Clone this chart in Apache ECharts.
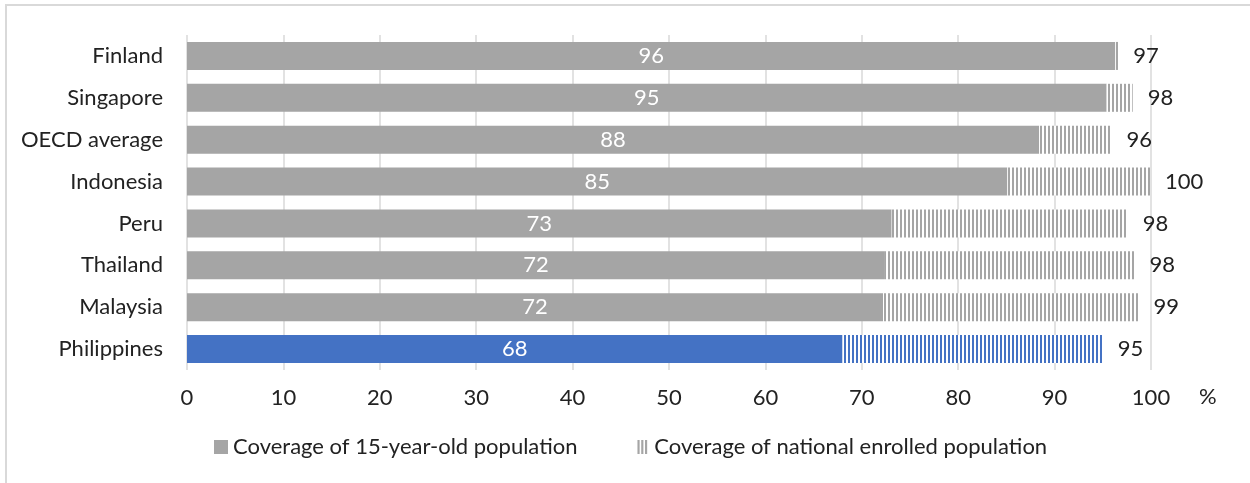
<!DOCTYPE html>
<html>
<head>
<meta charset="utf-8">
<script src="https://cdn.jsdelivr.net/npm/echarts@6/dist/echarts.min.js"></script>
<style>
html,body{margin:0;padding:0;background:#fff;}
#chart{width:1250px;height:483px;}
</style>
</head>
<body>
<div id="chart"></div>
<script>
var countries = ['Finland','Singapore','OECD average','Indonesia','Peru','Thailand','Malaysia','Philippines'];
var coverage15 = [96.3, 95.4, 88.4, 85.1, 73.1, 72.4, 72.2, 68.0];
var coverageEnrolled = [96.6, 98.1, 95.9, 99.9, 97.6, 98.3, 98.7, 95.0];
var xTicks = [0,10,20,30,40,50,60,70,80,90,100];
var seriesNames = ['Coverage of 15-year-old population','Coverage of national enrolled population'];
var highlight = 'Philippines';

var GRAY = '#a5a5a5', BLUE = '#4472c4';
function stripes(color){
  var c = document.createElement('canvas');
  c.width = 4; c.height = 4;
  var g = c.getContext('2d');
  g.fillStyle = '#ffffff'; g.fillRect(0,0,4,4);
  g.fillStyle = color; g.fillRect(0,0,2,4);
  return {image:c, repeat:'repeat'};
}
var FONT = 'Lato, "Open Sans", sans-serif';
var FS = 22;

var s1 = countries.map(function(c,i){
  var d = {value: coverage15[i]};
  if (c === highlight) d.itemStyle = {color: BLUE};
  return d;
});
var s2 = countries.map(function(c,i){
  var d = {value: +(coverageEnrolled[i]-coverage15[i]).toFixed(2)};
  if (c === highlight) d.itemStyle = {color: stripes(BLUE)};
  return d;
});

var chart = echarts.init(document.getElementById('chart'), null, {renderer:'canvas'});
chart.setOption({
  animation:false,
  textStyle:{fontFamily:FONT},
  graphic:[{type:'rect', shape:{x:6,y:5,width:1260,height:500}, style:{fill:'none', stroke:'#d9d9d9', lineWidth:2}, silent:true}],
  grid:{left:187, right:99, top:35, bottom:113, containLabel:false},
  legend:{
    top:431, left:209,
    itemWidth:14, itemHeight:14, itemGap:60,
    textStyle:{fontSize:FS, color:'#222', fontFamily:FONT},
    data:[
      {name:seriesNames[0], icon:'rect'},
      {name:seriesNames[1], icon:'path://M0,0h2v13h-2zM3.5,0h2v13h-2zM7,0h2v13h-2z', itemStyle:{color:GRAY}}
    ]
  },
  xAxis:{
    type:'value', min:0, max:100, interval:10,
    axisLine:{show:false}, axisTick:{show:false},
    splitLine:{show:true, lineStyle:{color:'#d9d9d9', width:1.5}},
    axisLabel:{fontSize:FS, color:'#222', margin:17, fontFamily:FONT,
      formatter:function(v){ return xTicks.indexOf(v) >= 0 ? String(v) : ''; }},
    name:'%', nameLocation:'end', nameGap:48,
    nameTextStyle:{fontSize:FS, color:'#222', fontFamily:FONT, verticalAlign:'top', padding:[16,0,0,0]}
  },
  yAxis:{
    type:'category', data:countries, inverse:true,
    axisLine:{show:false}, axisTick:{show:false},
    axisLabel:{fontSize:FS, color:'#222', margin:24, fontFamily:FONT}
  },
  series:[
    {
      name:seriesNames[0], type:'bar', stack:'cov', barWidth:28,
      itemStyle:{color:GRAY},
      label:{show:true, position:'inside', color:'#fff', fontSize:FS, fontFamily:FONT,
        formatter:function(p){ return Math.round(coverage15[p.dataIndex]); }},
      data:s1
    },
    {
      name:seriesNames[1], type:'bar', stack:'cov', barWidth:28,
      itemStyle:{color:stripes(GRAY)},
      label:{show:true, position:'right', distance:15, color:'#222', fontSize:FS, fontFamily:FONT,
        formatter:function(p){ return Math.round(coverageEnrolled[p.dataIndex]); }},
      data:s2
    }
  ]
});
</script>
</body>
</html>
